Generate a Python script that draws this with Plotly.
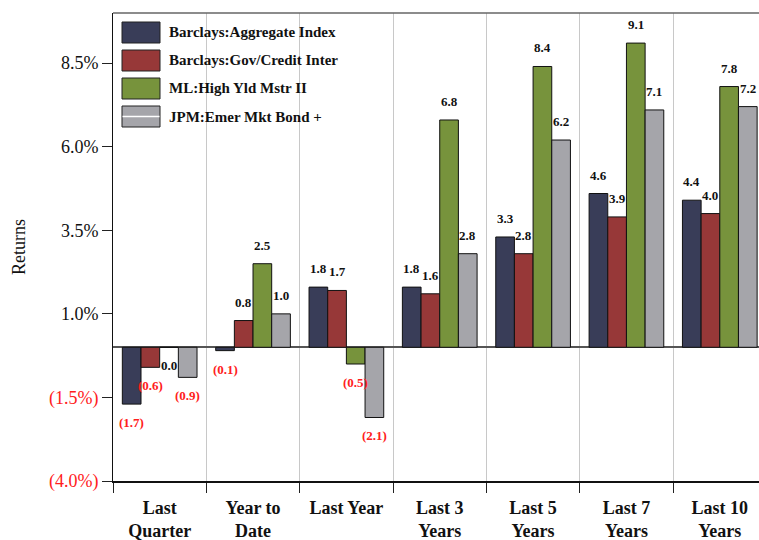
import plotly.graph_objects as go

categories = ["Last Quarter", "Year to Date", "Last Year", "Last 3 Years",
              "Last 5 Years", "Last 7 Years", "Last 10 Years"]
tick_labels = ["Last<br>Quarter", "Year to<br>Date", "Last Year", "Last 3<br>Years",
               "Last 5<br>Years", "Last 7<br>Years", "Last 10<br>Years"]
series_names = ["Barclays:Aggregate Index", "Barclays:Gov/Credit Inter",
                "ML:High Yld Mstr II", "JPM:Emer Mkt Bond +"]
agg = [-1.7, -0.1, 1.8, 1.8, 3.3, 4.6, 4.4]
gov_credit = [-0.6, 0.8, 1.7, 1.6, 2.8, 3.9, 4.0]
high_yield = [0.0, 2.5, -0.5, 6.8, 8.4, 9.1, 7.8]
emer_mkt = [-0.9, 1.0, -2.1, 2.8, 6.2, 7.1, 7.2]
y_tick_vals = [-4.0, -1.5, 1.0, 3.5, 6.0, 8.5]

series_values = [agg, gov_credit, high_yield, emer_mkt]
colors = ["#393d58", "#973838", "#77933c", "#a5a5aa"]

FONT = "Liberation Serif"
W, H = 759, 540
ML, MR, MT, MB = 113, 0, 13, 59
PW, PH = W - ML - MR, H - MT - MB

fig = go.Figure()
for name, vals, col in zip(series_names, series_values, colors):
    fig.add_trace(go.Bar(
        x=categories, y=vals, name=name, marker_color=col,
        marker_line_color="#111111", marker_line_width=1, showlegend=False,
        hoverinfo="skip",
    ))

BARGAP = 0.2
bw = (1 - BARGAP) / len(series_values)
annotations = []
for j, vals in enumerate(series_values):
    for i, v in enumerate(vals):
        xpos = i + (j - (len(series_values) - 1) / 2) * bw
        if v > 0:
            txt, col, ya, ys = f"{v:.1f}", "#111111", "bottom", 9
        elif v == 0:
            txt, col, ya, ys = f"{v:.1f}", "#111111", "top", -9
        else:
            txt, col, ya, ys = f"({abs(v):.1f})", "#ff2020", "top", -9
        annotations.append(dict(
            x=xpos, y=v, xref="x", yref="y", text=f"<b>{txt}</b>", showarrow=False,
            yanchor=ya, yshift=ys, xanchor="center",
            font=dict(family=FONT, size=13, color=col),
        ))

# helpers: figure pixel -> paper coords
def px_x(p):
    return (p - ML) / PW

def px_y(p):
    return (H - MB - p) / PH

shapes = [dict(type="line", xref="paper", yref="paper", x0=0, x1=1, y0=1, y1=1,
               line=dict(color="#666666", width=1.5))]
for k, (name, col) in enumerate(zip(series_names, colors)):
    top = 22 + k * 28
    bot = top + 21
    shapes.append(dict(type="rect", xref="paper", yref="paper",
                       x0=px_x(122), x1=px_x(160), y0=px_y(bot), y1=px_y(top),
                       fillcolor=col, line=dict(color="#222222", width=1)))
    if k == 3:
        shapes.append(dict(type="line", xref="paper", yref="paper",
                           x0=px_x(122.5), x1=px_x(159.5),
                           y0=px_y((top + bot) / 2), y1=px_y((top + bot) / 2),
                           line=dict(color="#ffffff", width=1.5)))
    annotations.append(dict(
        x=px_x(167), y=px_y((top + bot) / 2), xref="paper", yref="paper",
        text=f"<b>{name}</b>", showarrow=False, xanchor="left", yanchor="middle",
        font=dict(family=FONT, size=15, color="#111111"),
    ))

def fmt_tick(v):
    if v < 0:
        return f'<span style="color:#ff2020">({abs(v):.1f}%)</span>'
    return f"{v:.1f}%"

fig.update_layout(
    width=W, height=H,
    margin=dict(l=ML, r=MR, t=MT, b=MB, autoexpand=False),
    paper_bgcolor="white", plot_bgcolor="white",
    barmode="group", bargap=BARGAP, bargroupgap=0,
    annotations=annotations, shapes=shapes,
    font=dict(family=FONT, color="#111111"),
    showlegend=False, hovermode=False,
)
fig.update_xaxes(
    type="category", categoryorder="array", categoryarray=categories,
    tickvals=categories, ticktext=[f"<b>{t}</b>" for t in tick_labels],
    tickfont=dict(family=FONT, size=18, color="#111111"),
    tickson="boundaries", ticks="outside", ticklen=10, tickcolor="#222222",
    ticklabelstandoff=9,
    showline=True, linecolor="#111111", linewidth=2,
    showgrid=True, gridcolor="#c8c8c8", gridwidth=1,
    range=[-0.5, 6.42], automargin=False,
)
fig.update_yaxes(
    range=[-4.0, 10.0],
    tickvals=y_tick_vals, ticktext=[fmt_tick(v) for v in y_tick_vals],
    tickfont=dict(family=FONT, size=18, color="#111111"),
    ticks="outside", ticklen=10, tickcolor="#222222",
    showline=True, linecolor="#111111", linewidth=1,
    showgrid=False, zeroline=True, zerolinecolor="#555555", zerolinewidth=1.5,
    title=dict(text="Returns", font=dict(family=FONT, size=18, color="#111111"), standoff=18),
    automargin=False,
)

fig.write_html("out.html", config={"displayModeBar": False},
               post_script="document.body.style.margin='0';document.body.style.overflow='hidden';")
